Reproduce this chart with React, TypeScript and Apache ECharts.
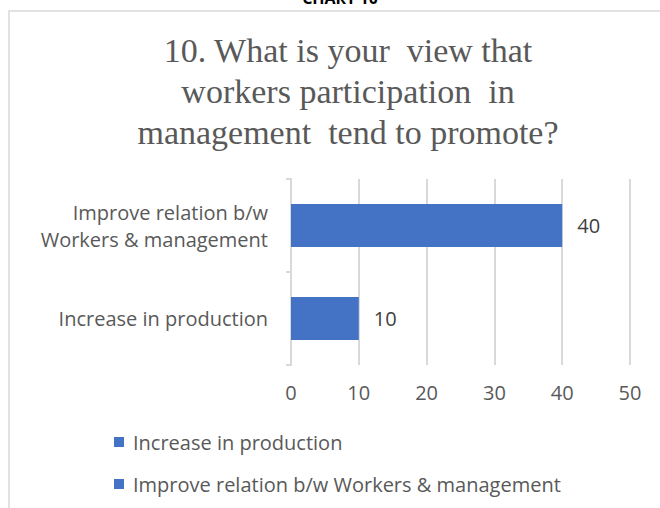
import React, { useEffect, useRef } from "react";
import * as echarts from "echarts";

const categories = ["Increase in production", "Improve relation b/w\nWorkers & management"];
const legendNames = ["Increase in production", "Improve relation b/w Workers & management"];
const values = [10, 40];
const xTicks = { min: 0, max: 50, interval: 10 };
const titleLines = [
  "10. What is your  view that",
  "workers participation  in",
  "management  tend to promote?",
];

export default function App() {
  const ref = useRef<HTMLDivElement>(null);
  useEffect(() => {
    if (!ref.current) return;
    const chart = echarts.init(ref.current, null, { renderer: "svg" });
    const font = "'Open Sans', 'Noto Sans', sans-serif";
    const series = legendNames.map((name, i) => ({
      name,
      type: "bar",
      stack: "s",
      barWidth: 43,
      itemStyle: { color: "#4472C4" },
      data: categories.map((_, j) => (j === i ? values[j] : "-")),
      label: {
        show: true,
        position: "right",
        distance: 15,
        fontFamily: font,
        fontSize: 20,
        color: "#404040",
      },
    }));
    chart.setOption({
      animation: false,
      backgroundColor: "#fff",
      title: {
        text: titleLines.join("\n"),
        left: 343,
        textAlign: "center",
        top: 25,
        textStyle: {
          fontFamily: "'Liberation Serif', 'Times New Roman', serif",
          fontSize: 34,
          fontWeight: "normal",
          color: "#595959",
          lineHeight: 41,
        },
      },
      graphic: [
        {
          type: "rect",
          shape: { x: 9, y: 11, width: 700, height: 600 },
          style: { fill: "none", stroke: "#d9d9d9", lineWidth: 1.5 },
          silent: true,
        },
        {
          type: "text",
          x: 340,
          y: 6,
          style: {
            text: "CHART 10",
            fontFamily: "'Open Sans', sans-serif",
            fontWeight: "bold",
            fontSize: 16,
            fill: "#000",
            textAlign: "center",
            textVerticalAlign: "bottom",
          },
        },
      ],
      legend: {
        orient: "vertical",
        left: 109,
        top: 425,
        itemWidth: 10,
        itemHeight: 10,
        itemGap: 18,
        icon: "rect",
        data: legendNames,
        textStyle: {
          fontFamily: font,
          fontSize: 20,
          color: "#595959",
          lineHeight: 24,
          padding: [0, 0, 0, 4],
        },
      },
      grid: { left: 291, right: 30, top: 179, bottom: 143 },
      xAxis: {
        type: "value",
        min: xTicks.min,
        max: xTicks.max,
        interval: xTicks.interval,
        axisLine: { show: false },
        axisTick: { show: false },
        splitLine: { lineStyle: { color: "#d9d9d9", width: 2 } },
        axisLabel: { fontFamily: font, fontSize: 20, color: "#595959", margin: 17 },
      },
      yAxis: {
        type: "category",
        data: categories,
        axisLine: { lineStyle: { color: "#d9d9d9", width: 2 } },
        axisTick: { show: true, length: 5, lineStyle: { color: "#d9d9d9", width: 2 } },
        axisLabel: {
          fontFamily: font,
          fontSize: 20,
          color: "#595959",
          margin: 23,
          lineHeight: 27,
          align: "right",
        },
      },
      series,
    });
    return () => chart.dispose();
  }, []);
  return (
    <div
      ref={ref}
      style={{ position: "fixed", left: 0, top: 0, width: 660, height: 508 }}
    />
  );
}
